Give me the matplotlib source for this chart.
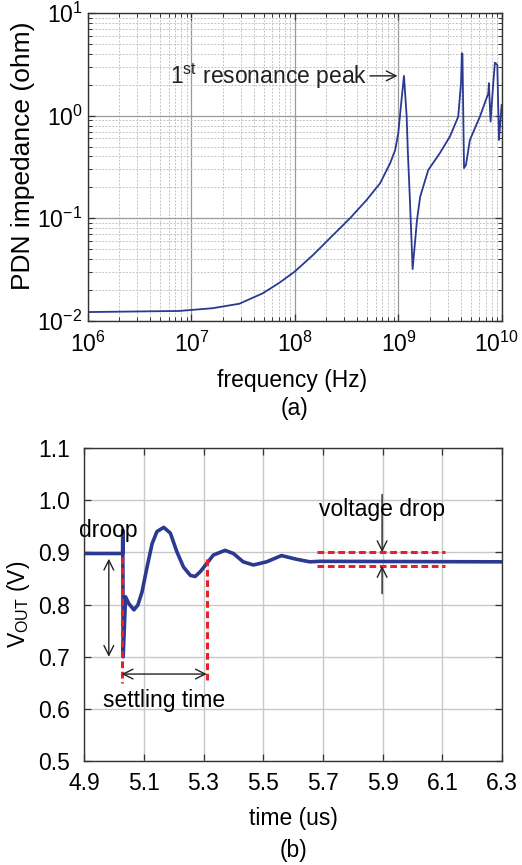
import numpy as np
import matplotlib
matplotlib.use("Agg")
import matplotlib.pyplot as plt
import matplotlib.transforms as mtransforms
from matplotlib.ticker import LogLocator, NullFormatter

plt.rcParams["font.family"] = ["Liberation Sans", "DejaVu Sans"]
plt.rcParams["mathtext.fontset"] = "custom"
plt.rcParams["mathtext.rm"] = "Liberation Sans"
plt.rcParams["mathtext.it"] = "Liberation Sans:italic"
plt.rcParams["mathtext.bf"] = "Liberation Sans:bold"
plt.rcParams["axes.unicode_minus"] = False

LINE_COLOR = "#2b3990"
RED = "#e8202a"

# (a) PDN impedance vs frequency
freq_hz = [1.0e6, 7.6e6, 1.6e7, 2.9e7, 4.89e7, 7.1e7, 9.93e7, 1.5e8,
           2.17e8, 3.4e8, 4.93e8, 6.64e8, 8.3e8, 9.29e8, 9.95e8, 1.07e9,
           1.13e9, 1.20e9, 1.23e9, 1.29e9, 1.37e9, 1.51e9, 1.62e9, 1.94e9,
           2.51e9, 3.14e9, 3.78e9, 4.02e9, 4.10e9, 4.15e9, 4.30e9, 4.49e9,
           4.90e9, 6.12e9, 7.38e9, 7.48e9, 7.76e9, 8.24e9, 8.55e9, 9.02e9,
           9.35e9, 9.93e9]
impedance_ohm = [0.0122, 0.0125, 0.0133, 0.0147, 0.0186, 0.0236, 0.0302, 0.044,
                 0.0638, 0.100, 0.151, 0.219, 0.343, 0.462, 0.673, 1.42,
                 2.44, 0.98, 0.46, 0.151, 0.032, 0.096, 0.162, 0.295,
                 0.431, 0.625, 0.977, 2.07, 4.06, 3.98, 0.308, 0.331,
                 0.579, 0.977, 1.65, 2.07, 0.875, 2.07, 3.28, 3.12,
                 0.579, 1.27]

# (b) output voltage transient
time_us = [4.900, 5.029, 5.0296, 5.031, 5.039, 5.050, 5.067, 5.080, 5.094,
           5.111, 5.128, 5.144, 5.167, 5.189, 5.211, 5.233, 5.256, 5.272,
           5.289, 5.311, 5.333, 5.372, 5.400, 5.433, 5.467, 5.511, 5.561,
           5.611, 5.656, 5.689, 6.300]
vout_v = [0.898, 0.898, 0.943, 0.700, 0.815, 0.802, 0.790, 0.799, 0.824,
          0.872, 0.917, 0.940, 0.948, 0.937, 0.901, 0.872, 0.856, 0.854,
          0.863, 0.879, 0.895, 0.904, 0.898, 0.882, 0.876, 0.882, 0.894,
          0.887, 0.882, 0.883, 0.882]

freq_ticks = [1e6, 1e7, 1e8, 1e9, 1e10]
freq_ticklabels = ["$10^{6}$", "$10^{7}$", "$10^{8}$", "$10^{9}$", "$10^{10}$"]
imp_ticks = [1e-2, 1e-1, 1e0, 1e1]
imp_ticklabels = ["$10^{-2}$", "$10^{-1}$", "$10^{0}$", "$10^{1}$"]
time_ticks = [4.9, 5.1, 5.3, 5.5, 5.7, 5.9, 6.1, 6.3]
vout_ticks = [0.5, 0.6, 0.7, 0.8, 0.9, 1.0, 1.1]

FS = 16.5

fig = plt.figure(figsize=(5.22, 8.65), dpi=100)

# ---------- (a) ----------
ax1 = fig.add_axes([0.1686, 0.629, 0.793, 0.356])
ax1.plot(freq_hz, impedance_ohm, color=LINE_COLOR, lw=1.3,
         solid_joinstyle="round")
ax1.set_xscale("log")
ax1.set_yscale("log")
ax1.set_xlim(1e6, 1e10)
ax1.set_ylim(1e-2, 1e1)
ax1.set_xticks(freq_ticks)
ax1.set_xticklabels(freq_ticklabels)
ax1.set_yticks(imp_ticks)
ax1.set_yticklabels(imp_ticklabels)
ax1.xaxis.set_minor_locator(LogLocator(base=10, subs=np.arange(2, 10), numticks=100))
ax1.yaxis.set_minor_locator(LogLocator(base=10, subs=np.arange(2, 10), numticks=100))
ax1.xaxis.set_minor_formatter(NullFormatter())
ax1.yaxis.set_minor_formatter(NullFormatter())
ax1.grid(True, which="major", color="#9a9a9a", lw=0.9, ls="-")
ax1.grid(True, which="minor", color="#c4c4c4", lw=0.7, ls=(0, (2, 1.5)))
ax1.tick_params(which="both", direction="in", top=True, right=True,
                labelsize=FS, color="#333333")
ax1.tick_params(which="major", length=5, width=0.9)
ax1.tick_params(which="minor", length=3, width=0.7)
ax1.tick_params(axis="x", pad=8)
ax1.tick_params(axis="y", pad=4)
for s in ax1.spines.values():
    s.set_color("#333333")
    s.set_linewidth(1.0)
# nudge the last frequency label so it stays inside the figure
last = ax1.get_xticklabels()[-1]
last.set_transform(last.get_transform() +
                   mtransforms.ScaledTranslation(-4 / 72, 0, fig.dpi_scale_trans))
ax1.set_xlabel("frequency (Hz)", fontsize=FS)
ax1.xaxis.set_label_coords(0.494, -0.155)
ax1.set_ylabel("PDN impedance (ohm)", fontsize=19)
ax1.yaxis.set_label_coords(-0.128, 0.535)

ax1.annotate("", xy=(9.8e8, 2.44), xytext=(5.3e8, 2.44),
             arrowprops=dict(arrowstyle="->,head_length=0.7,head_width=0.35",
                             color="#222222", lw=1.0, shrinkA=0, shrinkB=0))
ax1.text(4.97e8, 2.44, "1$^{\\rm st}$ resonance peak", fontsize=FS,
         ha="right", va="center", color="#222222")

fig.text(0.565, 0.528, "(a)", fontsize=FS, ha="center", va="center")

# ---------- (b) ----------
ax2 = fig.add_axes([0.161, 0.120, 0.801, 0.362])
ax2.plot(time_us, vout_v, color=LINE_COLOR, lw=2.6, solid_joinstyle="round")
ax2.set_xlim(4.9, 6.3)
ax2.set_ylim(0.5, 1.1)
ax2.set_xticks(time_ticks)
ax2.set_yticks(vout_ticks)
ax2.set_xticklabels([f"{t:.1f}" for t in time_ticks])
ax2.set_yticklabels([f"{v:.1f}" for v in vout_ticks])
ax2.grid(True, color="#c8c8c8", lw=1.0)
ax2.tick_params(direction="in", top=True, right=True, labelsize=FS,
                length=5, width=0.9, color="#333333")
ax2.tick_params(axis="x", pad=8)
ax2.tick_params(axis="y", pad=10)
for s in ax2.spines.values():
    s.set_color("#333333")
    s.set_linewidth(1.0)
ax2.set_xlabel("time (us)", fontsize=FS)
ax2.xaxis.set_label_coords(0.5, -0.145)
ax2.set_ylabel("V$_{\\rm OUT}$ (V)", fontsize=FS)
ax2.yaxis.set_label_coords(-0.124, 0.5)

# red dashed markers
dash = (0, (2.2, 1.2))
ax2.plot([5.026, 5.026], [0.891, 0.649], color=RED, lw=2.2, ls=dash)
ax2.plot([5.311, 5.311], [0.888, 0.649], color=RED, lw=2.2, ls=dash)
ax2.plot([5.68, 6.109], [0.9006, 0.9006], color=RED, lw=2.2, ls=dash)
ax2.plot([5.68, 6.109], [0.874, 0.874], color=RED, lw=2.2, ls=dash)

arrow2 = dict(arrowstyle="<->,head_length=0.7,head_width=0.35",
              color="#222222", lw=1.0, shrinkA=0, shrinkB=0)
arrow1 = dict(arrowstyle="->,head_length=0.7,head_width=0.35",
              color="#222222", lw=1.0, shrinkA=0, shrinkB=0)
ax2.annotate("", xy=(4.983, 0.888), xytext=(4.983, 0.700), arrowprops=arrow2)
ax2.annotate("", xy=(5.026, 0.667), xytext=(5.311, 0.667), arrowprops=arrow2)
ax2.annotate("", xy=(5.898, 0.9006), xytext=(5.898, 1.011), arrowprops=arrow1)
ax2.annotate("", xy=(5.898, 0.874), xytext=(5.898, 0.821), arrowprops=arrow1)

ax2.text(4.98, 0.942, "droop", fontsize=FS, ha="center", va="center")
ax2.text(5.169, 0.617, "settling time", fontsize=FS, ha="center", va="center")
ax2.text(5.899, 0.982, "voltage drop", fontsize=FS, ha="center", va="center")

fig.text(0.562, 0.017, "(b)", fontsize=FS, ha="center", va="center")

fig.savefig("out.png", dpi=100)
